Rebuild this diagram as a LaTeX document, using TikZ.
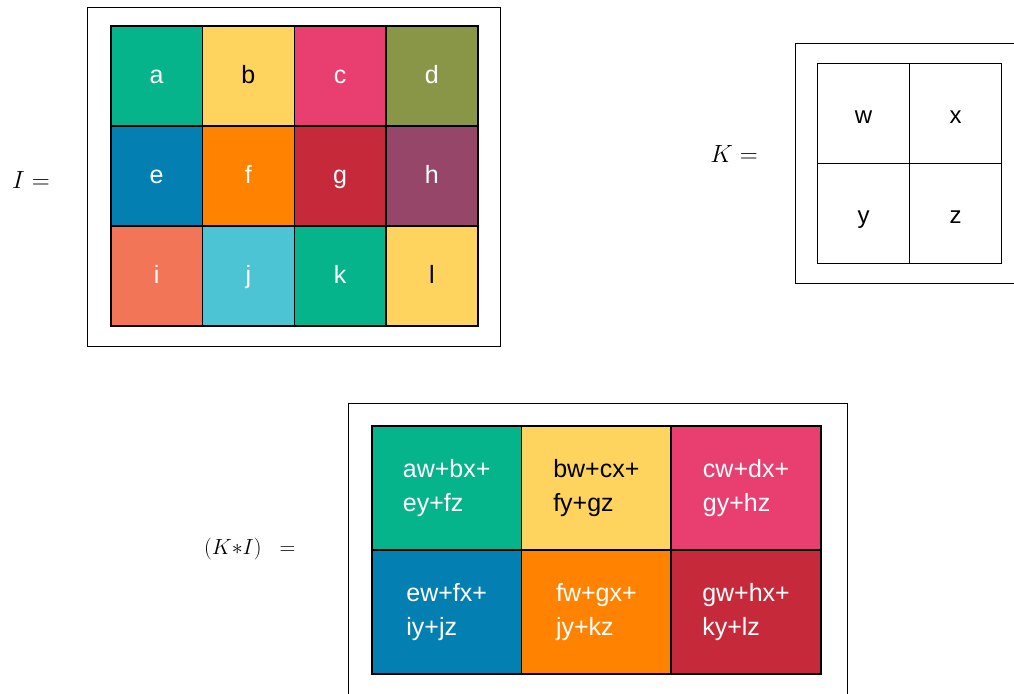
\documentclass[tikz,border=0pt]{standalone}
\usepackage{fontspec}
\setsansfont{Liberation Sans}
\definecolor{cgreen}{HTML}{05B48A}
\definecolor{cyellow}{HTML}{FFD45E}
\definecolor{cpink}{HTML}{E93E70}
\definecolor{colive}{HTML}{899648}
\definecolor{cblue}{HTML}{037FB2}
\definecolor{corange}{HTML}{FF8200}
\definecolor{cred}{HTML}{C62A3A}
\definecolor{cpurple}{HTML}{964669}
\definecolor{csalmon}{HTML}{F37557}
\definecolor{ccyan}{HTML}{4CC4D4}
\tikzset{
  outerbox/.style={draw=black, line width=1.3pt},
  icell/.style={draw=black, line width=1.6pt, minimum width=91.75pt, minimum height=100pt, inner sep=0pt, anchor=north west, text=white, text height=16pt, text depth=0pt, font=\sffamily\fontsize{25}{28}\selectfont},
  kcell/.style={draw=black, line width=1.3pt, minimum width=92pt, minimum height=100pt, inner sep=0pt, anchor=north west, text=black, text height=19pt, text depth=0pt, font=\sffamily\fontsize{24}{28}\selectfont},
  ocell/.style={draw=black, line width=1.6pt, minimum width=149.7pt, minimum height=124pt, inner sep=0pt, anchor=north west, text=white, align=left, font=\sffamily\fontsize{25}{34}\selectfont},
  mlabel/.style={inner sep=0pt, text=black}
}
\begin{document}
\begin{tikzpicture}[x=1pt,y=-1pt]
\useasboundingbox (0,0) rectangle (1014,693);
\clip (0,0) rectangle (1014,693);
% I matrix
\node[outerbox, minimum width=413pt, minimum height=339pt, anchor=north west, inner sep=0pt] (ibox) at (87,7) {};
\node[icell, fill=cgreen] (ca) at (110,25) {a};
\node[icell, fill=cyellow, text=black] (cb) at (201.75,25) {b};
\node[icell, fill=cpink] (cc) at (293.5,25) {c};
\node[icell, fill=colive] (cd) at (385.25,25) {d};
\node[icell, fill=cblue] (ce) at (110,125) {e};
\node[icell, fill=corange] (cf) at (201.75,125) {f};
\node[icell, fill=cred] (cg) at (293.5,125) {g};
\node[icell, fill=cpurple] (ch) at (385.25,125) {h};
\node[icell, fill=csalmon] (ci) at (110,225) {i};
\node[icell, fill=ccyan] (cj) at (201.75,225) {j};
\node[icell, fill=cgreen] (ck) at (293.5,225) {k};
\node[icell, fill=cyellow, text=black] (cl) at (385.25,225) {l};
\node[mlabel, anchor=base, font=\fontsize{28}{32}\selectfont] (ilabel) at (31,188) {$I =$};
% K matrix
\node[outerbox, minimum width=240pt, minimum height=240pt, anchor=north west, inner sep=0pt] (kbox) at (795,43) {};
\node[kcell] (kw) at (817,63) {w};
\node[kcell] (kx) at (909,63) {x};
\node[kcell] (ky) at (817,163) {y};
\node[kcell] (kz) at (909,163) {z};
\node[mlabel, anchor=base, font=\fontsize{24}{28}\selectfont] (klabel) at (734,162) {$K =$};
% Output
\node[outerbox, minimum width=499pt, minimum height=320pt, anchor=north west, inner sep=0pt] (obox) at (348,403) {};
\node[ocell, fill=cgreen] (o1) at (371,425) {aw+bx+\\ey+fz};
\node[ocell, fill=cyellow, text=black] (o2) at (520.7,425) {bw+cx+\\fy+gz};
\node[ocell, fill=cpink] (o3) at (670.4,425) {cw+dx+\\gy+hz};
\node[ocell, fill=cblue] (o4) at (371,549) {ew+fx+\\iy+jz};
\node[ocell, fill=corange] (o5) at (520.7,549) {fw+gx+\\jy+kz};
\node[ocell, fill=cred] (o6) at (670.4,549) {gw+hx+\\ky+lz};
\node[mlabel, anchor=base west, font=\fontsize{20.74}{25}\selectfont] (olabel) at (204,554) {\scalebox{1.055}{$(K{\ast}I)$\hspace{17pt}$=$}};
\end{tikzpicture}
\end{document}
